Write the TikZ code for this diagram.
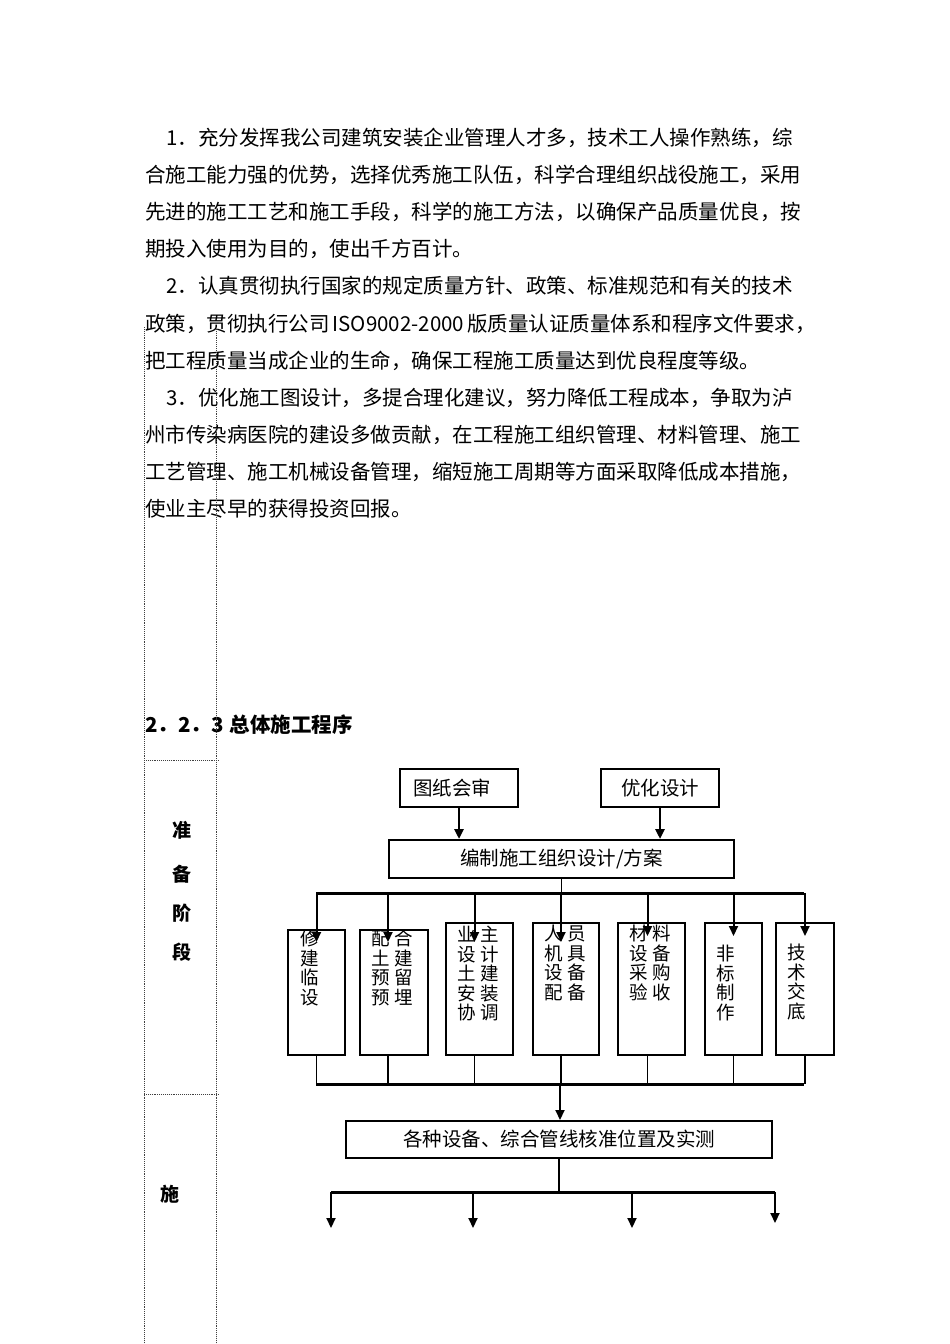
\documentclass[tikz,border=0pt]{standalone}
\usepackage{fontspec}
\setmainfont{Noto Sans CJK SC}
\usetikzlibrary{arrows.meta,positioning,calc}
\XeTeXlinebreaklocale "zh"
\XeTeXlinebreakskip=0pt plus 4pt

\begin{document}
\begin{tikzpicture}[x=1pt, y=-1pt,
    txt/.style={anchor=base west, inner sep=0pt, font=\fontsize{20.5}{20.5}\selectfont},
    stage/.style={inner sep=0pt, font=\bfseries\fontsize{19}{19}\selectfont},
    box/.style={draw, line width=2pt, inner sep=0pt, anchor=north west, font=\fontsize{19.5}{19.5}\selectfont},
    boxtxt/.style={anchor=north, inner sep=0pt, align=center, font=\fontsize{18.5}{19.5}\selectfont},
    arr/.style={-{Triangle[length=10pt,width=9pt]}, line width=2pt},
    conn/.style={line width=1.5pt},
    bus/.style={line width=3pt},
    grid/.style={densely dotted, line width=0.9pt, black!75}
]

\useasboundingbox[fill=white] (0,0) rectangle (950,1344);

% Text
\node (p1a) [txt] at (166,145) {\makebox[634pt][s]{1．充分发挥我公司建筑安装企业管理人才多，技术工人操作熟练，综}};
\node (p1b) [txt] at (145,182) {\makebox[655pt][s]{合施工能力强的优势，选择优秀施工队伍，科学合理组织战役施工，采用}};
\node (p1c) [txt] at (145,219) {\makebox[655pt][s]{先进的施工工艺和施工手段，科学的施工方法，以确保产品质量优良，按}};
\node (p1d) [txt] at (145,256) {期投入使用为目的，使出千方百计。};
\node (p2a) [txt] at (166,293) {\makebox[634pt][s]{2．认真贯彻执行国家的规定质量方针、政策、标准规范和有关的技术}};
\node (p2b) [txt] at (145,331) {\makebox[660pt][s]{政策，贯彻执行公司 ISO9002-2000 版质量认证质量体系和程序文件要求，}};
\node (p2c) [txt] at (145,368) {把工程质量当成企业的生命，确保工程施工质量达到优良程度等级。};
\node (p3a) [txt] at (166,405) {\makebox[634pt][s]{3．优化施工图设计，多提合理化建议，努力降低工程成本，争取为泸}};
\node (p3b) [txt] at (145,442) {\makebox[655pt][s]{州市传染病医院的建设多做贡献，在工程施工组织管理、材料管理、施工}};
\node (p3c) [txt] at (145,479) {\makebox[655pt][s]{工艺管理、施工机械设备管理，缩短施工周期等方面采取降低成本措施，}};
\node (p3d) [txt] at (145,516) {使业主尽早的获得投资回报。};

\node (title) [txt, font=\bfseries\fontsize{20.5}{20.5}\selectfont] at (145,732) {2．2．3\kern6pt 总体施工程序};

% Table
\draw[grid] (144,327) -- (144,1344);
\draw[grid] (216,327) -- (216,1344);
\draw[grid] (144,760) -- (219,760);
\draw[grid] (144,1094) -- (219,1094);

\node (zhun) [stage] at (182,830) {准};
\node (bei) [stage] at (182,874) {备};
\node (jie) [stage] at (182,913) {阶};
\node (duan) [stage] at (182,952) {段};
\node (shi) [stage] at (170,1194) {施};

% Flow
\node (tuzhi) [box, minimum width=118pt, minimum height=38pt] at (399,768) {图纸会审\kern14pt};
\node (youhua) [box, minimum width=118pt, minimum height=38pt] at (600,768) {优化设计};
\node (bianzhi) [box, minimum width=345pt, minimum height=38pt] at (388,839) {编制施工组织设计/方案};
\draw[arr, line width=2.5pt] (tuzhi.south) -- (tuzhi.south |- bianzhi.north);
\draw[arr, line width=2.5pt] (youhua.south) -- (youhua.south |- bianzhi.north);

\coordinate (busa) at (316,893);
\coordinate (busb) at (804,893);
\draw[conn] (bianzhi.south) -- (bianzhi.south |- busa);
\draw[bus] (busa) -- (busb);

\node (b1) [box, minimum width=57pt, minimum height=125pt] at (287,929) {};
\node (b2) [box, minimum width=68pt, minimum height=125pt] at (359,929) {};
\node (b3) [box, minimum width=67pt, minimum height=132pt] at (445,922) {};
\node (b4) [box, minimum width=66pt, minimum height=132pt] at (532,922) {};
\node (b5) [box, minimum width=67pt, minimum height=132pt] at (617,922) {};
\node (b6) [box, minimum width=57pt, minimum height=132pt] at (704,922) {};
\node (b7) [box, minimum width=58pt, minimum height=132pt] at (775,922) {};

\node (t1) [boxtxt] at (310,930) {修\\建\\临\\设};
\node (t2) [boxtxt] at (392,930) {配 合\\土 建\\预 留\\预 埋};
\node (t3) [boxtxt] at (478,926) {业 主\\设 计\\土 建\\安 装\\协 调};
\node (t4) [boxtxt] at (565,925) {人 员\\机 具\\设 备\\配 备};
\node (t5) [boxtxt] at (650,925) {材 料\\设 备\\采 购\\验 收};
\node (t6) [boxtxt] at (726,945) {非\\标\\制\\作};
\node (t7) [boxtxt] at (797,944) {技\\术\\交\\底};

\foreach \b/\dx/\dy in {b1/0/13, b2/-6/13, b3/-5/20, b4/-5/20, b5/-4/14, b6/0/14, b7/0/14}
  \draw[arr] ($(\b.north |- busa)+(\dx,0)$) -- ($(\b.north)+(\dx,\dy)$);

\coordinate (busc) at (316,1084);
\coordinate (busd) at (804,1084);
\foreach \b/\dx in {b1/0, b2/-6, b3/-5, b4/-5, b5/-4, b6/0, b7/0}
  \draw[conn] ($(\b.south)+(\dx,0)$) -- ($(\b.south |- busc)+(\dx,0)$);
\draw[bus] (busc) -- (busd);

\node (hezhun) [box, minimum width=426pt, minimum height=37pt] at (345,1120) {各种设备、综合管线核准位置及实测};
\coordinate (mid) at (560,1084);
\draw[arr] (mid) -- (mid |- hezhun.north);

\coordinate (buse) at (331,1192);
\coordinate (busf) at (775,1192);
\draw[conn] (hezhun.south) -- (hezhun.south |- buse);
\draw[bus] (buse) -- (busf);
\foreach \x/\t in {331/1228, 473/1228, 632/1228, 775/1223} {
  \coordinate (end\x) at (\x,\t);
  \draw[arr] (end\x |- buse) -- (end\x);
}

\end{tikzpicture}
\end{document}
